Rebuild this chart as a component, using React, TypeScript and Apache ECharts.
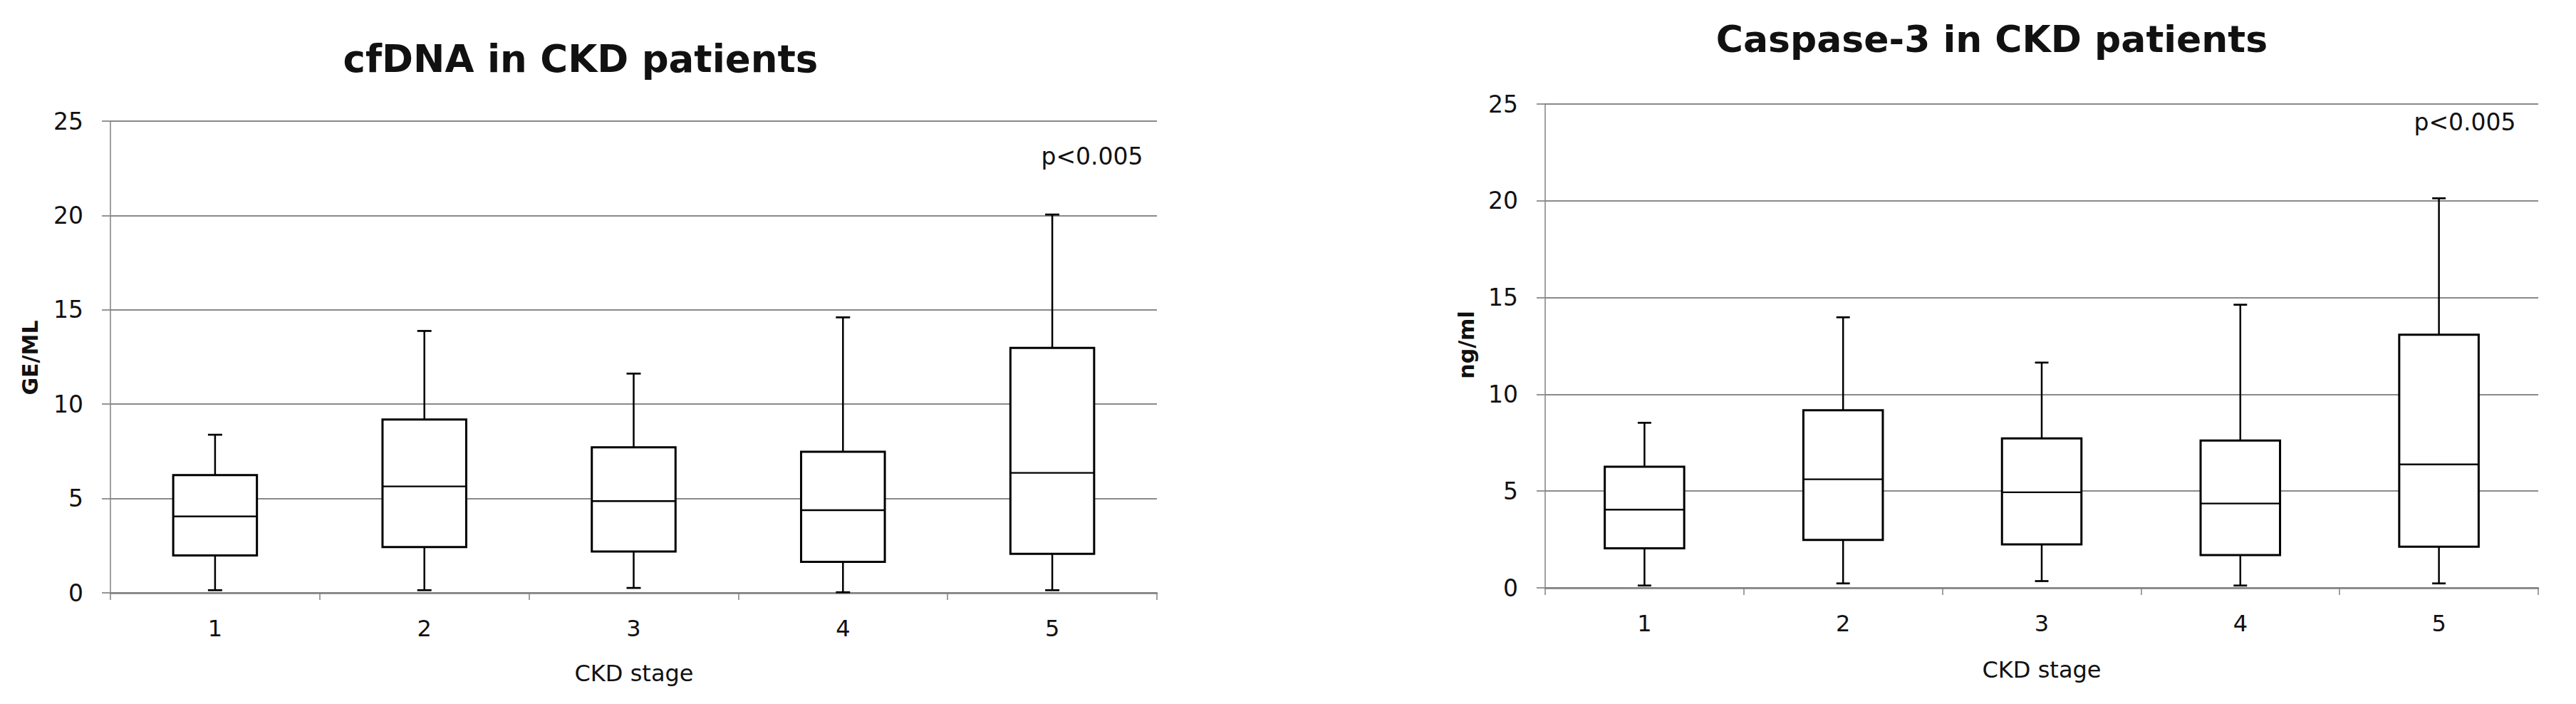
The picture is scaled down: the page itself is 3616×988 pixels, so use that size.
import React, { useEffect, useRef } from "react";
import * as echarts from "echarts";

const stages = ["1", "2", "3", "4", "5"];
const yTicks = [0, 5, 10, 15, 20, 25];

// [min, Q1, median, Q3, max]
const cfdnaBoxes = [
  [0.14, 1.98, 4.05, 6.24, 8.38],
  [0.14, 2.43, 5.64, 9.19, 13.88],
  [0.26, 2.19, 4.86, 7.71, 11.62],
  [0.03, 1.64, 4.38, 7.48, 14.6],
  [0.14, 2.07, 6.36, 12.98, 20.05],
];
const caspaseBoxes = [
  [0.12, 2.04, 4.04, 6.26, 8.53],
  [0.23, 2.48, 5.61, 9.18, 13.98],
  [0.35, 2.25, 4.94, 7.72, 11.64],
  [0.12, 1.69, 4.36, 7.61, 14.63],
  [0.23, 2.13, 6.38, 13.08, 20.13],
];

const leftTitle = "cfDNA in CKD patients";
const rightTitle = "Caspase-3 in CKD patients";
const leftYName = "GE/ML";
const rightYName = "ng/ml";
const xName = "CKD stage";
const pText = "p<0.005";

const FONT = "'DejaVu Sans', sans-serif";
const GRID_GRAY = "#8a8a8a";
const AXIS_GRAY = "#808080";

function renderBox(params: any, api: any) {
  const idx = api.value(0);
  const pMin = api.coord([idx, api.value(1)]);
  const pQ1 = api.coord([idx, api.value(2)]);
  const pMed = api.coord([idx, api.value(3)]);
  const pQ3 = api.coord([idx, api.value(4)]);
  const pMax = api.coord([idx, api.value(5)]);
  const band = api.size([1, 0])[0];
  const bw = band * 0.4;
  const cw = band * 0.068;
  const x = pMed[0];
  const line = (x1: number, y1: number, x2: number, y2: number, w: number) => ({
    type: "line",
    shape: { x1, y1, x2, y2 },
    style: { stroke: "#000", lineWidth: w },
  });
  return {
    type: "group",
    children: [
      line(x, pQ3[1], x, pMax[1], 2.5),
      line(x - cw / 2, pMax[1], x + cw / 2, pMax[1], 2.7),
      line(x, pQ1[1], x, pMin[1], 2.5),
      line(x - cw / 2, pMin[1], x + cw / 2, pMin[1], 2.7),
      {
        type: "rect",
        shape: { x: x - bw / 2, y: pQ3[1], width: bw, height: pQ1[1] - pQ3[1] },
        style: { fill: "#fff", stroke: "#000", lineWidth: 3 },
      },
      line(x - bw / 2, pMed[1], x + bw / 2, pMed[1], 2.4),
    ],
  };
}

function makeXAxis(gridIndex: number) {
  return {
    type: "category",
    gridIndex,
    data: stages,
    boundaryGap: true,
    axisLine: { show: true, lineStyle: { color: AXIS_GRAY, width: 2.5 } },
    axisTick: { show: true, length: 10, interval: 0, lineStyle: { color: AXIS_GRAY, width: 1.5 } },
    axisLabel: { margin: 34, fontSize: 32, fontFamily: FONT, color: "#111" },
    splitLine: { show: false },
  };
}

function makeYAxis(gridIndex: number) {
  return {
    type: "value",
    gridIndex,
    min: yTicks[0],
    max: yTicks[yTicks.length - 1],
    interval: yTicks[1] - yTicks[0],
    axisLine: { show: true, lineStyle: { color: AXIS_GRAY, width: 1.5 } },
    axisTick: { show: true, length: 12, inside: false, lineStyle: { color: GRID_GRAY, width: 1.8 } },
    axisLabel: { margin: 38, fontSize: 33, fontFamily: FONT, color: "#111" },
    splitLine: { show: true, lineStyle: { color: GRID_GRAY, width: 1.8 } },
  };
}

function toData(boxes: number[][]) {
  return boxes.map((b, i) => [i, ...b]);
}

function txt(text: string, x: number, y: number, size: number, bold: boolean, rotation = 0) {
  return {
    type: "text",
    x,
    y,
    rotation,
    style: {
      text,
      fill: "#111",
      font: `${bold ? "bold " : ""}${size}px ${FONT}`,
      textAlign: "center",
      textVerticalAlign: "middle",
      align: "center",
      verticalAlign: "middle",
    },
  };
}

export default function App() {
  const ref = useRef<HTMLDivElement>(null);
  useEffect(() => {
    if (!ref.current) return;
    const chart = echarts.init(ref.current, null, { renderer: "svg" });
    chart.setOption({
      animation: false,
      backgroundColor: "#fff",
      grid: [
        { left: 155, top: 170, width: 1469, height: 662 },
        { left: 2169, top: 146, width: 1394, height: 679 },
      ],
      xAxis: [makeXAxis(0), makeXAxis(1)],
      yAxis: [makeYAxis(0), makeYAxis(1)],
      series: [
        {
          type: "custom",
          name: "cfDNA",
          xAxisIndex: 0,
          yAxisIndex: 0,
          renderItem: renderBox,
          encode: { x: 0, y: [1, 2, 3, 4, 5] },
          data: toData(cfdnaBoxes),
          z: 5,
        },
        {
          type: "custom",
          name: "Caspase-3",
          xAxisIndex: 1,
          yAxisIndex: 1,
          renderItem: renderBox,
          encode: { x: 0, y: [1, 2, 3, 4, 5] },
          data: toData(caspaseBoxes),
          z: 5,
        },
      ],
      graphic: [
        txt(leftTitle, 815, 82, 53, true),
        txt(rightTitle, 2796, 55, 52, true),
        txt(leftYName, 42, 502, 30, true, Math.PI / 2),
        txt(rightYName, 2058, 484, 30, true, Math.PI / 2),
        txt(xName, 890, 945, 32, false),
        txt(xName, 2866, 940, 32, false),
        txt(pText, 1533, 219, 33, false),
        txt(pText, 3460, 171, 33, false),
      ],
    });
    return () => chart.dispose();
  }, []);
  return (
    <div
      ref={ref}
      style={{ position: "absolute", left: 0, top: 0, width: 3616, height: 988, background: "#fff" }}
    />
  );
}
